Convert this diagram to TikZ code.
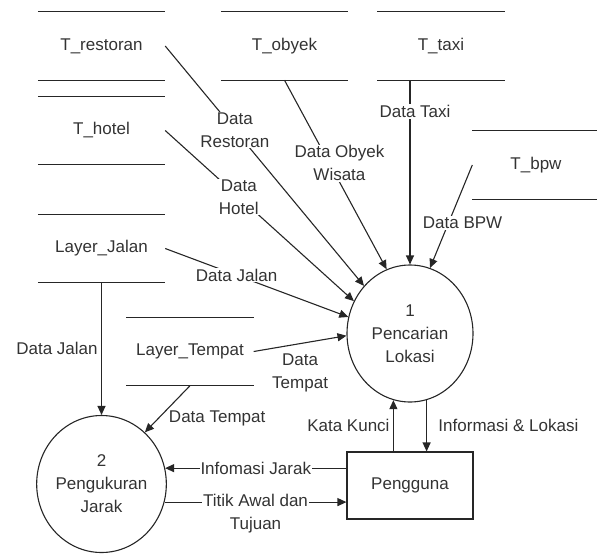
\documentclass[tikz,border=0pt]{standalone}
\usepackage{fontspec}
\setmainfont{Liberation Sans}
\usetikzlibrary{shapes.geometric,arrows.meta}

\begin{document}
\begin{tikzpicture}[x=1pt,y=-1pt]
    \tikzstyle{every node} = [font=\fontsize{17}{23}\selectfont, text=black!80]
    \tikzstyle{store} = [rectangle, minimum width=127pt, minimum height=68pt, inner sep=0pt]
    \tikzstyle{process} = [draw=black!85, line width=1.1pt, ellipse, minimum width=126pt, minimum height=137pt, inner sep=0pt, align=center]
    \tikzstyle{entity} = [draw=black!85, line width=1.1pt, rectangle, minimum width=126pt, minimum height=67pt]
    \tikzstyle{flow} = [-{Triangle[length=9pt,width=8pt]}, line width=1.1pt, black!85]
    \tikzstyle{lbl} = [fill=white, align=center, inner sep=1pt]
    \useasboundingbox (0,0) rectangle (597,554);
    % place nodes
    \node[store](tRestoran) at (101.5,46){T\_restoran};
    \node[store](tHotel) at (101.5,130.5){T\_hotel};
    \node[store](layerJalan) at (101.5,248.5){Layer\_Jalan};
    \node[store](tObyek) at (284.5,46){T\_obyek};
    \node[store](tTaxi) at (441,46){T\_taxi};
    \node[store](tBpw) at (536,165){T\_bpw};
    \node[store](layerTempat) at (190,351.5){Layer\_Tempat};
    \node[process](pencarianLokasi) at (410,333.5){1\\Pencarian\\Lokasi};
    \node[process](pengukuranJarak) at (101.5,484){2\\Pengukuran\\Jarak};
    \node[entity](pengguna) at (410,485.5){Pengguna};

    % data stores
    \foreach \s in {tRestoran,tHotel,layerJalan,tObyek,tTaxi,tBpw,layerTempat}
        \draw[line width=1.1pt, black!85] (\s.north west) -- (\s.north east) (\s.south west) -- (\s.south east);

    % Connections
    \draw[flow]
    (tRestoran.east) -- node[lbl,pos=0.35]{Data\\Restoran} (pencarianLokasi.134);
    \draw[flow]
    (tHotel.east) -- node[lbl,pos=0.39]{Data\\Hotel} (pencarianLokasi.150);
    \draw[flow]
    (layerJalan.east) -- node[lbl,pos=0.39]{Data Jalan} (pencarianLokasi.165);
    \draw[flow]
    (tObyek.south) -- node[lbl,pos=0.44,xshift=10pt]{Data Obyek\\Wisata} (pencarianLokasi.110);
    \draw[flow]
    (tTaxi.south -| pencarianLokasi.north) -- node[lbl,pos=0.17,xshift=5pt]{Data Taxi} (pencarianLokasi.north);
    \draw[flow]
    (tBpw.west) -- node[lbl,pos=0.56,xshift=14pt]{Data BPW} (pencarianLokasi.73);
    \draw[flow]
    (layerTempat.east) -- node[midway,below,yshift=-6pt,align=center]{Data\\Tempat} (pencarianLokasi.182);
    \draw[flow]
    (layerTempat.south) -- node[midway,below right,inner sep=1pt]{Data Tempat} (pengukuranJarak.50);
    \draw[flow]
    (layerJalan.south) -- node[midway,left]{Data Jalan} (pengukuranJarak.north);
    \draw[flow]
    (pengguna.north -| pencarianLokasi.256) -- node[midway,left]{Kata Kunci} (pencarianLokasi.256);
    \draw[flow]
    (pencarianLokasi.284) -- node[midway,right,xshift=8pt]{Informasi \& Lokasi} (pengguna.north -| pencarianLokasi.284);
    \draw[flow]
    (pengguna.west |- pengukuranJarak.14) -- node[lbl]{Infomasi Jarak} (pengukuranJarak.14);
    \draw[flow]
    (pengukuranJarak.-16) -- node[lbl,yshift=-12pt]{Titik Awal dan\\Tujuan} (pengguna.west |- pengukuranJarak.-16);

\end{tikzpicture}
\end{document}
